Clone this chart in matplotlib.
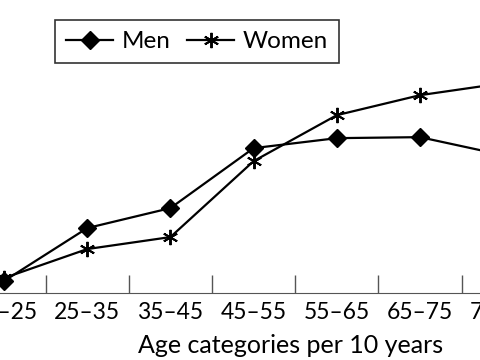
import matplotlib
matplotlib.use("Agg")
import matplotlib.pyplot as plt
import matplotlib.transforms as mtransforms
import numpy as np

# categories and values (arbitrary units)
categories = ["15\u201325", "25\u201335", "35\u201345", "45\u201355", "55\u201365", "65\u201375", "75\u201385"]
men = [12, 65, 85, 145, 155, 156, 138]
women = [15, 44, 56, 132, 178, 198, 210]

plt.rcParams['font.family'] = ['Lato', 'DejaVu Sans']

fig = plt.figure(figsize=(4.8, 3.6), dpi=100)
ax = fig.add_axes([0, 0.186, 1, 0.78])

x = np.arange(len(categories))
ax.plot(x, men, color="black", lw=1.6, marker="D", markersize=9, label="Men")
ax.plot(x, women, color="black", lw=1.6, marker=(6, 2, 0), markersize=11,
        markeredgewidth=1.4, label="Women")

# boundary ticks pointing up
ax.set_xticks(np.arange(len(categories) - 1) + 0.5)
ax.set_xticklabels([])
ax.tick_params(axis="x", which="major", direction="in", length=13, width=1, color="#555555")
ax.set_yticks([])

ax.set_xlim(-4/83.2, 476/83.2)
ax.set_ylim(0, 281)

# category labels at the centres (the last one runs off the edge)
trans = mtransforms.blended_transform_factory(ax.transData, fig.transFigure)
for xi, lab in zip(x, categories):
    ax.text(xi, 0.115, lab, transform=trans, ha="center", va="baseline",
            fontsize=16.5, clip_on=False)
fig.text(0.606, 0.0194, "Age categories per 10 years", ha="center", va="baseline", fontsize=18)

for s in ["left", "top", "right"]:
    ax.spines[s].set_visible(False)
ax.spines["bottom"].set_color("#555555")

leg = ax.legend(loc="upper left", bbox_to_anchor=(0.1146, 0.944), bbox_transform=fig.transFigure,
                ncol=2, fontsize=17.5, frameon=True, fancybox=False, edgecolor="black",
                handlelength=1.95, columnspacing=0.68, handletextpad=0.34, borderpad=0.45,
                borderaxespad=0)
leg.get_frame().set_linewidth(1.2)

fig.savefig("out.png", dpi=100)
